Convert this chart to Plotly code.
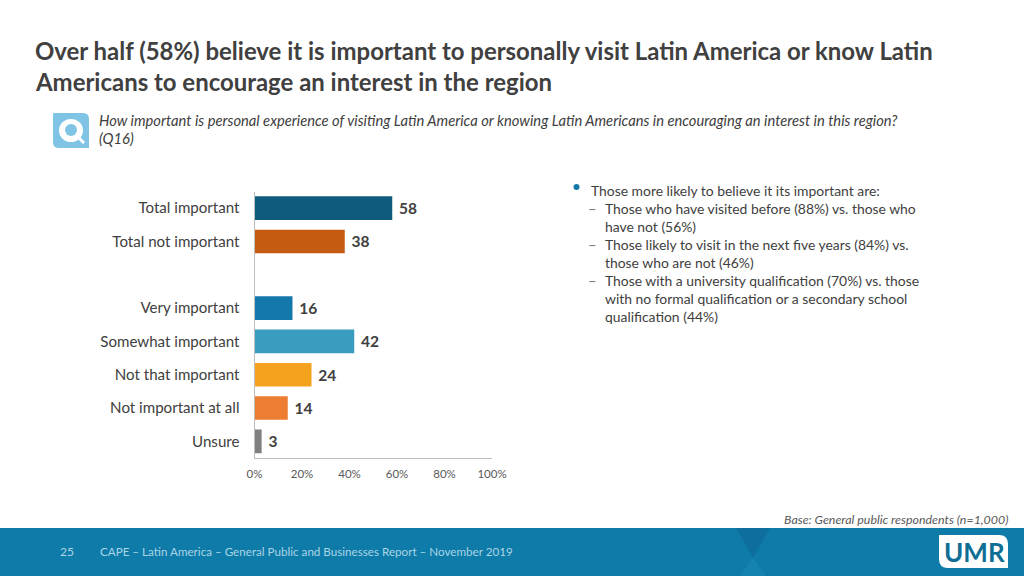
import plotly.graph_objects as go

categories = ["Total important", "Total not important", " ", "Very important",
              "Somewhat important", "Not that important", "Not important at all", "Unsure"]
values = [58, 38, None, 16, 42, 24, 14, 3]
bar_colors = ["#0F5B7D", "#C55A11", "#FFFFFF", "#1479AA", "#3A9CBE", "#F5A31F", "#ED7D31", "#7F7F7F"]
tick_values = [0, 20, 40, 60, 80, 100]
tick_labels = ["0%", "20%", "40%", "60%", "80%", "100%"]

title_lines = ["Over half (58%) believe it is important to personally visit Latin America or know Latin",
               "Americans to encourage an interest in the region"]
question_lines = ["How important is personal experience of visiting Latin America or knowing Latin Americans in encouraging an interest in this region?",
                  "(Q16)"]
bullet_head = "Those more likely to believe it its important are:"
bullet_lines = [("–", "Those who have visited before (88%) vs. those who"), (None, "have not (56%)"),
                ("–", "Those likely to visit in the next five years (84%) vs."), (None, "those who are not (46%)"),
                ("–", "Those with a university qualification (70%) vs. those"),
                (None, "with no formal qualification or a secondary school"), (None, "qualification (44%)")]
base_note = "Base: General public respondents (n=1,000)"
page_no = "25"
footer_text = "CAPE – Latin America – General Public and Businesses Report – November 2019"

W, H = 1024, 576
FONT = "Lato"
DARK = "#404040"
def X(p): return p / W
def Y(p): return 1 - p / H

fig = go.Figure(go.Bar(
    y=categories, x=values, orientation="h", marker=dict(color=bar_colors, line_width=0),
    width=0.71, texttemplate=" %{x}", textposition="outside",
    textfont=dict(family=FONT, size=15.5, color=DARK, weight="bold"), cliponaxis=False,
    hoverinfo="skip"))

shapes = []
def rect(x0, y0, x1, y1, color, layer="below"):
    shapes.append(dict(type="rect", xref="paper", yref="paper", x0=X(x0), x1=X(x1), y0=Y(y1), y1=Y(y0),
                       fillcolor=color, line_width=0, layer=layer))
def circle(x0, y0, x1, y1, color):
    shapes.append(dict(type="circle", xref="paper", yref="paper", x0=X(x0), x1=X(x1), y0=Y(y1), y1=Y(y0),
                       fillcolor=color, line_width=0, layer="above"))
def leaf(x0, y0, x1, y1, r, color):
    # rectangle with rounded top-right and bottom-left corners
    p = (f"M {X(x0)} {Y(y0)} L {X(x1-r)} {Y(y0)} Q {X(x1)} {Y(y0)} {X(x1)} {Y(y0+r)} "
         f"L {X(x1)} {Y(y1)} L {X(x0+r)} {Y(y1)} Q {X(x0)} {Y(y1)} {X(x0)} {Y(y1-r)} Z")
    shapes.append(dict(type="path", xref="paper", yref="paper", layer="above", line_width=0, fillcolor=color, path=p))

# footer band
rect(0, 528, W, 576, "#0F7BA8")
shapes.append(dict(type="path", xref="paper", yref="paper", layer="below", line_width=0, fillcolor="#0E6F9E",
    path=f"M {X(736)} {Y(528)} L {X(770)} {Y(528)} L {X(753)} {Y(558)} Z"))
shapes.append(dict(type="path", xref="paper", yref="paper", layer="below", line_width=0, fillcolor="#1583AF",
    path=f"M {X(753)} {Y(558)} L {X(766)} {Y(576)} L {X(740)} {Y(576)} Z"))
# logo plate
leaf(939, 535, 1008, 568, 9, "#FFFFFF")
# question icon
leaf(53, 113, 89, 148, 6, "#7FC4E4")
circle(59, 119, 83, 142, "#FFFFFF")
circle(65, 124, 77, 136, "#7FC4E4")
shapes.append(dict(type="line", xref="paper", yref="paper", layer="above", line=dict(color="#FFFFFF", width=3),
                   x0=X(76), x1=X(84), y0=Y(135), y1=Y(143)))
# bullet
circle(573.5, 184, 579.5, 190, "#1479AA")

ann = []
def text(x, y, s, size, color=DARK, bold=False, italic=False, anchor="left", family=FONT):
    ann.append(dict(xref="paper", yref="paper", x=X(x), y=Y(y), text=s, showarrow=False, xanchor=anchor,
                    yanchor="middle", borderpad=0, borderwidth=0,
                    font=dict(family=family, size=size, color=color, weight="bold" if bold else "normal",
                              style="italic" if italic else "normal")))

for i, line in enumerate(title_lines):
    text(35, 50 + i * 31, line, 23.95, bold=True)
for i, line in enumerate(question_lines):
    text(98.5, 120 + i * 18.5, line, 14.72, italic=True)
text(591, 190, bullet_head, 13.9)
for i, (dash, line) in enumerate(bullet_lines):
    y = 208 + i * 18
    if dash:
        text(587.5, y, dash, 15, color="#7F7F7F")
    text(605, y, line, 13.9)
text(1008, 519, base_note, 12.4, italic=True, anchor="right", color="#595959")
text(60, 551, page_no, 12, color="#A9D5E6")
text(100, 551.5, footer_text, 11.65, color="#A9D5E6")
text(974, 552, "UMR", 26, color="#0F6E94", bold=True, anchor="center")

fig.update_layout(
    width=W, height=H, margin=dict(l=0, r=0, t=0, b=0, autoexpand=False), paper_bgcolor="#FFFFFF", plot_bgcolor="#FFFFFF",
    showlegend=False, shapes=shapes, annotations=ann, bargap=0.29,
    font=dict(family=FONT),
    xaxis=dict(domain=[X(254.5), X(492)], range=[0, 100], tickvals=tick_values, ticktext=tick_labels,
               showgrid=False, zeroline=False, showline=True, linecolor="#BFBFBF", linewidth=1, ticks="",
               ticklabelstandoff=5, tickfont=dict(family=FONT, size=11.5, color="#595959")),
    yaxis=dict(domain=[Y(458), Y(191.5)], categoryorder="array", categoryarray=categories, autorange="reversed",
               showgrid=False, zeroline=False, showline=True, linecolor="#BFBFBF", linewidth=1, ticks="",
               ticklabelstandoff=11, tickfont=dict(family=FONT, size=15.1, color=DARK)),
)
fig.write_html("out.html", config=dict(displayModeBar=False),
               post_script="document.body.style.margin='0';document.body.style.overflow='hidden';")
